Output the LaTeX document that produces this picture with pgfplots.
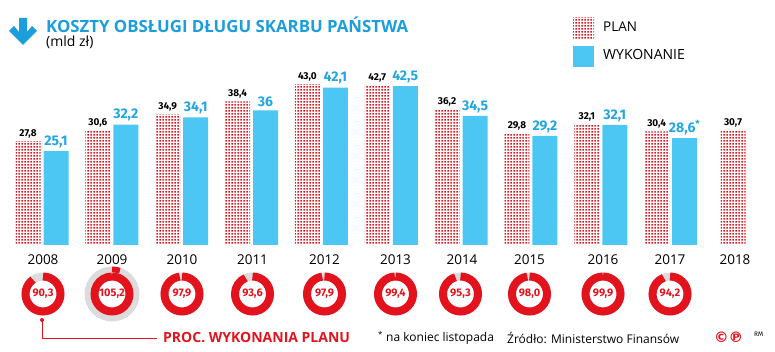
\documentclass[border=0pt]{standalone}
\usepackage{pgfplots}
\pgfplotsset{compat=1.18}
\usepackage{pgfplotstable}
\usepackage{fontspec}
\setmainfont{Fira Sans}
\newfontfamily\opensans{Open Sans}
\newfontfamily\dejavu{DejaVu Sans}
\usetikzlibrary{patterns.meta}
\definecolor{cyanbar}{HTML}{4CC7F4}
\definecolor{titleblue}{HTML}{1C9EDD}
\definecolor{labblue}{HTML}{22A6E0}
\definecolor{pred}{HTML}{E3131E}
\definecolor{ringgray}{HTML}{DCDCDC}

\tikzdeclarepattern{name=plandots, type=uncolored,
  bottom left={(0pt,0pt)}, top right={(3.2pt,3.2pt)}, tile size={(3.2pt,3.2pt)},
  code={\fill (0.4pt,0.4pt) rectangle (2.3pt,2.3pt);}}

\pgfplotstableread{
x y lab
28 27.8 27,8
97.85 30.6 30,6
167.7 34.9 34,9
237.55 38.4 38,4
307.4 43.0 43,0
377.25 42.7 42,7
447.1 36.2 36,2
516.95 29.8 29,8
586.8 32.1 32,1
656.65 30.4 30,4
733 30.7 30,7
}\plandata

\pgfplotstableread{
x y lab
56 25.1 25,1
125.85 32.2 32,2
195.7 34.1 34,1
265.55 36 36
335.4 42.1 42,1
405.25 42.5 42,5
475.1 34.5 34,5
544.95 29.2 29,2
614.8 32.1 32,1
684.65 28.6 {28,6\textsuperscript{*}}
}\wykdata

\begin{document}
\begin{tikzpicture}[x=1pt,y=1pt]
\useasboundingbox (0,0) rectangle (775,352);

\begin{axis}[
  at={(0pt,107pt)}, anchor=south west,
  scale only axis, width=775pt, height=224.4pt,
  xmin=0, xmax=775, ymin=0, ymax=60,
  axis lines=none, clip=false,
  ybar,
]
\addplot[ybar, bar shift=0pt, bar width=25, draw=none, pattern=plandots, pattern color=pred,
  nodes near coords, point meta=explicit symbolic,
  nodes near coords style={font=\bfseries\fontsize{10}{10}\selectfont, text=black, anchor=south, inner sep=0pt, yshift=3pt}]
  table[x=x, y=y, meta=lab]{\plandata};
\addplot[ybar, bar shift=0pt, bar width=25, draw=none, fill=cyanbar,
  nodes near coords, point meta=explicit symbolic,
  nodes near coords style={font=\bfseries\fontsize{14}{14}\selectfont, text=labblue, anchor=south, inner sep=0pt, yshift=3pt}]
  table[x=x, y=y, meta=lab]{\wykdata};
\end{axis}

% title
\fill[titleblue] (19,334) -- (27,334) -- (27,320) -- (32,326) -- (37,321) -- (23,307) -- (9,321) -- (14,326) -- (19,320) -- cycle;
\node[anchor=base west, inner sep=0pt, text=titleblue, font=\opensans\bfseries\fontsize{16.8}{16.8}\selectfont] at (46,319) {KOSZTY OBSŁUGI DŁUGU SKARBU PAŃSTWA};
\node[anchor=base west, inner sep=0pt, font=\opensans\fontsize{14}{14}\selectfont] at (46,305) {(mld zł)};

% legend
\fill[pattern=plandots, pattern color=pred] (573,312) rectangle (594,334);
\node[anchor=west, inner sep=0pt, font=\opensans\fontsize{13.5}{13.5}\selectfont] at (603,325) {PLAN};
\fill[cyanbar] (573,285) rectangle (594,306);
\node[anchor=west, inner sep=0pt, font=\opensans\fontsize{14}{14}\selectfont] at (603,297) {WYKONANIE};

% year labels
\foreach \cx/\yr in {43/2008,112/2009,182/2010,252.5/2011,324.5/2012,395.5/2013,462/2014,529.5/2015,603/2016,670/2017,735/2018}{
  \node[font=\opensans\fontsize{13.5}{13.5}\selectfont, inner sep=0pt] at (\cx,92) {\yr};
}

% donuts
\draw[ringgray, line width=6pt] (112,58) circle[radius=24.5];
\draw[pred, line width=6pt] (112,58) ++(90:24.5) arc[start angle=90, delta angle=-18.7, radius=24.5];
\foreach \cx/\p/\l in {43/90.3/{90,3},112/100/{105,2},182/97.9/{97,9},252.5/93.6/{93,6},324.5/97.9/{97,9},395.5/99.4/{99,4},460.5/95.3/{95,3},529.5/98.0/{98,0},603/99.9/{99,9},670/94.2/{94,2}}{
  \draw[ringgray, line width=8pt] (\cx,58) circle[radius=17.5];
  \draw[pred, line width=8pt] (\cx,58) ++(90:17.5) arc[start angle=90, delta angle=-3.6*\p, radius=17.5];
  \node[text=pred, font=\bfseries\fontsize{11}{11}\selectfont, inner sep=0pt] at (\cx,58) {\l};
}

% footer
\draw[pred, line width=0.9pt] (42,32) -- (42,13.5) -- (157,13.5);
\fill[pred] (42,32) circle[radius=2];
\node[anchor=west, inner sep=0pt, text=pred, font=\opensans\bfseries\fontsize{14}{14}\selectfont] at (163,14) {PROC. WYKONANIA PLANU};
\node[anchor=west, inner sep=0pt, font=\opensans\fontsize{12}{12}\selectfont] at (378,14) {\textsuperscript{*} na koniec listopada};
\node[anchor=west, inner sep=0pt, font=\opensans\fontsize{12}{12}\selectfont] at (507,14) {Źródło: Ministerstwo Finansów};
\node[anchor=west, inner sep=0pt, text=pred, font=\dejavu\bfseries\fontsize{14.5}{14.5}\selectfont] at (714,15) {©℗};
\node[anchor=west, inner sep=0pt, font=\fontsize{6.5}{6.5}\selectfont] at (754,18) {RM};
\end{tikzpicture}
\end{document}
